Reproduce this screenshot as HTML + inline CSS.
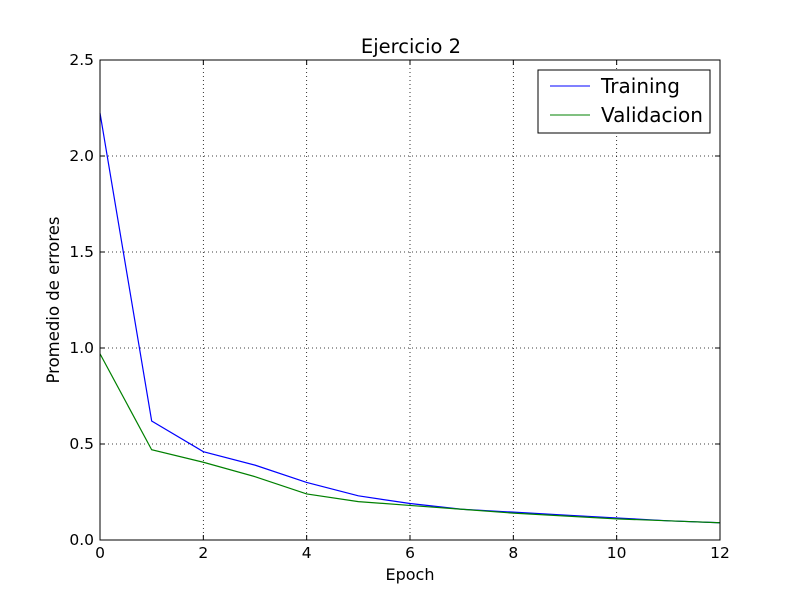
<!DOCTYPE html>
<html><head><meta charset="utf-8"><style>
body{margin:0;background:#fff;}
svg text{font-family:"DejaVu Sans","Liberation Sans",sans-serif;}
</style></head><body>
<svg id="chart" width="800" height="600" viewBox="0 0 800 600" xmlns="http://www.w3.org/2000/svg">
<rect width="800" height="600" fill="#fff"/>
<g id="grid"></g>
<g id="lines"></g>
<rect x="100" y="60" width="620" height="480" fill="none" stroke="#000" stroke-width="1"/>
<g id="ticks"></g>
<text x="411" y="53" font-size="19.5" text-anchor="middle">Ejercicio 2</text>
<text x="410" y="580" font-size="16" text-anchor="middle">Epoch</text>
<text transform="translate(59,300) rotate(-90)" font-size="16.5" text-anchor="middle">Promedio de errores</text>
<g>
<rect x="538" y="70" width="172" height="63" fill="#fff" stroke="#000" stroke-width="1"/>
<g>
<line x1="550" y1="86" x2="590" y2="86" stroke="#0000ff" stroke-width="1"/>
<text x="601" y="93" font-size="20">Training</text></g>
<g>
<line x1="550" y1="115" x2="590" y2="115" stroke="#008000" stroke-width="1"/>
<text x="601" y="122" font-size="20">Validacion</text></g>
</g>
</svg>
<script>
const epochs=[0,1,2,3,4,5,6,7,8,9,10,11,12];
const training=[2.224,0.62,0.46,0.39,0.30,0.23,0.19,0.16,0.145,0.13,0.115,0.10,0.09];
const validacion=[0.97,0.47,0.405,0.33,0.24,0.20,0.18,0.16,0.14,0.125,0.11,0.10,0.09];
const xTicks=[0,2,4,6,8,10,12];
const yTicks=[0,0.5,1.0,1.5,2.0,2.5];
const X=v=>100+v/12*620, Y=v=>540-v/2.5*480;
const NS="http://www.w3.org/2000/svg";
function mk(tag,attrs,parent){const e=document.createElementNS(NS,tag);for(const k in attrs)e.setAttribute(k,attrs[k]);parent.appendChild(e);return e;}
const grid=document.getElementById('grid'),ticks=document.getElementById('ticks'),lines=document.getElementById('lines');
xTicks.forEach(t=>{const x=X(t);
 const g=mk('line',{x1:x,y1:60,x2:x,y2:540,stroke:'#000','stroke-dasharray':'1,3','stroke-width':0.8},grid);
 
 
 mk('line',{x1:x,y1:540,x2:x,y2:535,stroke:'#000'},ticks);
 mk('line',{x1:x,y1:60,x2:x,y2:65,stroke:'#000'},ticks);
 const tx=mk('text',{x:x,y:558,'font-size':15.5,'text-anchor':'middle'},ticks);tx.textContent=t;
 
 
});
yTicks.forEach(t=>{const y=Y(t);
 const g=mk('line',{x1:100,y1:y,x2:720,y2:y,stroke:'#000','stroke-dasharray':'1,3','stroke-width':0.8},grid);
 
 
 mk('line',{x1:100,y1:y,x2:105,y2:y,stroke:'#000'},ticks);
 mk('line',{x1:720,y1:y,x2:715,y2:y,stroke:'#000'},ticks);
 const tx=mk('text',{x:94,y:y+5,'font-size':15.5,'text-anchor':'end'},ticks);tx.textContent=t.toFixed(1);
 
 
});
const p1=mk('polyline',{points:epochs.map((e,i)=>X(e)+','+Y(training[i])).join(' '),fill:'none',stroke:'#0000ff','stroke-width':1.2},lines);


const p2=mk('polyline',{points:epochs.map((e,i)=>X(e)+','+Y(validacion[i])).join(' '),fill:'none',stroke:'#008000','stroke-width':1.2},lines);


</script>
</body></html>
